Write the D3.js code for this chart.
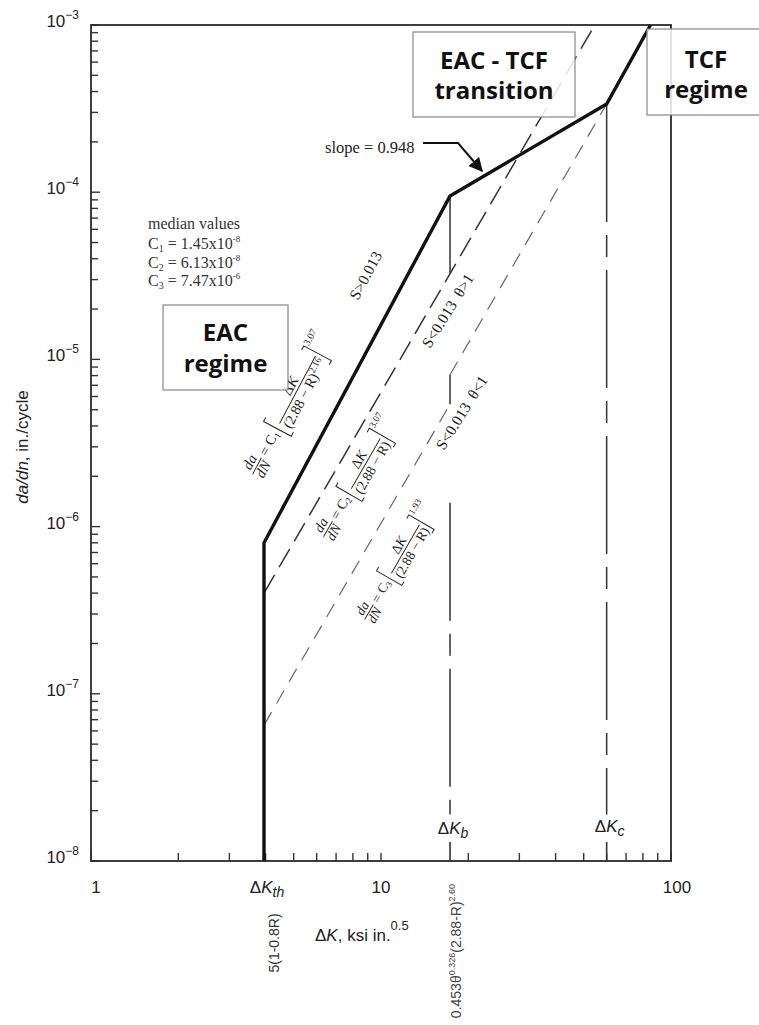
<!DOCTYPE html>
<html><head><meta charset="utf-8">
<script src="https://cdn.jsdelivr.net/npm/d3@7"></script>
<style>body{margin:0;background:#fff}</style>
</head><body>
<svg id="c" width="759" height="1025"></svg>
<script>
// ---------- data ----------
const xDomain = [1, 100];
const yDomain = [1e-8, 1e-3];
const xTickValues = [1, 10, 100];
const xTickLabels = ["1", "10", "100"];
const yDecadeValues = [1e-3, 1e-4, 1e-5, 1e-6, 1e-7, 1e-8];
const yDecadeExps = ["−3", "−4", "−5", "−6", "−7", "−8"];
const keyDK = [3.95, 17.3, 60];
const keyDKSubs = ["th", "b", "c"];
// S>0.013 (thick solid)
const thickDK = [3.95, 3.95, 17.3, 60, 85];
const thickRate = [1e-8, 8.0e-7, 9.5e-5, 3.37e-4, 1e-3];
// S<0.013, theta>1 (dashed)
const upperDK = [3.95, 54.6];
const upperRate = [4.0e-7, 1e-3];
const upperStepDK = [17.3, 17.3];
const upperStepRate = [9.5e-5, 3.27e-5];
// S<0.013, theta<1 (light dashed)
const lowerDK1 = [3.95, 17.3];
const lowerRate1 = [6.5e-8, 5.4e-6];
const lowerStepDK = [17.3, 17.3];
const lowerStepRate = [5.4e-6, 8.1e-6];
const lowerDK2 = [17.3, 60];
const lowerRate2 = [8.1e-6, 3.37e-4];
// vertical guide lines at dKb and dKc
const guideDK = [17.3, 60];
const guideTop = [1.39e-6, 3.37e-4];
const guideBottom = [1.9e-8, 1.9e-8];
// median values
const medianSubs = ["1", "2", "3"];
const medianMant = ["1.45", "6.13", "7.47"];
const medianExps = ["-8", "-8", "-6"];

// ---------- drawing ----------
const svg = d3.select("#c");
const SERIF = "'Liberation Serif', 'DejaVu Serif', serif";
const SANS = "'Liberation Sans', Arial, sans-serif";
const BOLD = "'Open Sans', 'Noto Sans', sans-serif";

const L = 91, R = 671, T = 25, B = 861;
const x = d3.scaleLog().domain(xDomain).range([L, R]);
const y = d3.scaleLog().domain(yDomain).range([B, T]);

// ticks (inward)
const yTicks = y.ticks();
svg.append("g").selectAll("line").data(yTicks).join("line")
  .attr("x1", L).attr("x2", d => L + (Math.abs(Math.log10(d) - Math.round(Math.log10(d))) < 1e-6 ? 9 : 7))
  .attr("y1", d => y(d)).attr("y2", d => y(d))
  .attr("stroke", "#333").attr("stroke-width", 1.4);
const xTicks = x.ticks();
svg.append("g").selectAll("line").data(xTicks).join("line")
  .attr("x1", d => x(d)).attr("x2", d => x(d))
  .attr("y1", B).attr("y2", B - 8)
  .attr("stroke", "#333").attr("stroke-width", 1.4);
// tall ticks at dKb, dKc
svg.append("g").selectAll("line").data(keyDK.slice(1)).join("line")
  .attr("x1", d => x(d)).attr("x2", d => x(d))
  .attr("y1", B).attr("y2", B - 19)
  .attr("stroke", "#333").attr("stroke-width", 1.6);

// frame
svg.append("rect").attr("x", L).attr("y", T).attr("width", R - L).attr("height", B - T)
  .attr("fill", "none").attr("stroke", "#2a2a2a").attr("stroke-width", 1.8);

// y tick labels
yDecadeValues.forEach((v, i) => {
  const t = svg.append("text").attr("x", 79).attr("y", y(v) + 2)
    .attr("text-anchor", "end").attr("font-family", SANS).attr("font-size", 17).attr("fill", "#222");
  t.append("tspan").text("10");
  t.append("tspan").attr("font-size", 12).attr("dy", -8).text(yDecadeExps[i]);
});
// x tick labels
xTickValues.forEach((v, i) => {
  svg.append("text").attr("x", x(v) + (i === 0 ? 5 : (i === 2 ? 6 : 0))).attr("y", 893)
    .attr("text-anchor", "middle").attr("font-family", SANS).attr("font-size", 17).attr("fill", "#222")
    .text(xTickLabels[i]);
});
// dK key labels
const keyY = [893, 834, 832];
keyDK.forEach((v, i) => {
  const t = svg.append("text").attr("x", x(v) + 3).attr("y", keyY[i])
    .attr("text-anchor", "middle").attr("font-family", SANS).attr("font-size", 17).attr("fill", "#222");
  t.append("tspan").text("Δ");
  t.append("tspan").attr("font-style", "italic").text("K");
  t.append("tspan").attr("font-style", "italic").attr("font-size", 14).attr("dy", 4).text(keyDKSubs[i]);
});

// axis titles
const xt = svg.append("text").attr("x", 315).attr("y", 941).attr("font-family", SANS).attr("font-size", 17).attr("fill", "#222");
xt.append("tspan").text("Δ");
xt.append("tspan").attr("font-style", "italic").text("K");
xt.append("tspan").text(", ksi in.");
xt.append("tspan").attr("font-size", 13).attr("dy", -11).text("0.5");
const yt = svg.append("text").attr("transform", "translate(28,447) rotate(-90)").attr("text-anchor", "middle")
  .attr("font-family", SANS).attr("font-size", 17).attr("fill", "#222");
yt.append("tspan").attr("font-style", "italic").text("da/dn");
yt.append("tspan").text(", in./cycle");

// rotated bottom expressions
svg.append("text").attr("transform", "translate(279,943) rotate(-90)").attr("text-anchor", "middle")
  .attr("font-family", SANS).attr("font-size", 14).attr("fill", "#333").text("5(1-0.8R)");
const kb = svg.append("text").attr("transform", "translate(461,951) rotate(-90)").attr("text-anchor", "middle")
  .attr("font-family", SANS).attr("font-size", 14).attr("fill", "#444");
kb.append("tspan").text("0.453θ");
kb.append("tspan").attr("font-size", 9).attr("dy", -6).text("0.326");
kb.append("tspan").attr("dy", 6).text("(2.88-R)");
kb.append("tspan").attr("font-size", 9).attr("dy", -6).text("2.60");

// curves
const line = d3.line().x(d => x(d[0])).y(d => y(d[1]));
const zip = (a, b) => a.map((v, i) => [v, b[i]]);

guideDK.forEach((v, i) => {
  svg.append("path").attr("d", line([[v, guideTop[i]], [v, guideBottom[i]]]))
    .attr("stroke", "#333").attr("stroke-width", 1.5).attr("fill", "none")
    .attr("stroke-dasharray", "118,13,22,13");
});

svg.append("path").attr("d", line(zip(lowerDK1, lowerRate1)))
  .attr("stroke", "#666").attr("stroke-width", 1.2).attr("fill", "none").attr("stroke-dasharray", "15,10");
svg.append("path").attr("d", line(zip(lowerDK2, lowerRate2)))
  .attr("stroke", "#666").attr("stroke-width", 1.2).attr("fill", "none").attr("stroke-dasharray", "15,10");
svg.append("path").attr("d", line(zip(lowerStepDK, lowerStepRate)))
  .attr("stroke", "#333").attr("stroke-width", 1.5).attr("fill", "none");

svg.append("path").attr("d", line(zip(upperDK, upperRate)))
  .attr("stroke", "#333").attr("stroke-width", 1.5).attr("fill", "none").attr("stroke-dasharray", "21,9");
svg.append("path").attr("d", line(zip(upperStepDK, upperStepRate)))
  .attr("stroke", "#333").attr("stroke-width", 1.5).attr("fill", "none");

svg.append("path").attr("d", line(zip(thickDK, thickRate)))
  .attr("stroke", "#111").attr("stroke-width", 3.4).attr("fill", "none").attr("stroke-linejoin", "miter");

// formulas
function formula(cx, cy, angle, sub, denExp, outExp, fs) {
  const k = fs / 12.5;
  const g = svg.append("g").attr("transform", `translate(${cx},${cy}) rotate(${angle})`)
    .attr("font-family", SERIF).attr("font-size", fs).attr("fill", "#222");
  g.append("text").attr("x", 0).attr("y", -3 * k).attr("text-anchor", "middle").attr("font-style", "italic").text("da");
  g.append("text").attr("x", 0).attr("y", 10 * k).attr("text-anchor", "middle").attr("font-style", "italic").text("dN");
  g.append("line").attr("x1", -8 * k).attr("x2", 8 * k).attr("y1", 0).attr("y2", 0).attr("stroke", "#222").attr("stroke-width", 0.9);
  let xx = 11 * k;
  const eq = g.append("text").attr("x", xx).attr("y", 4 * k);
  eq.append("tspan").text("= C");
  eq.append("tspan").attr("font-size", 8 * k).attr("dy", 2 * k).text(sub);
  xx += eq.node().getComputedTextLength() + 3 * k;
  const h = 13 * k, hb = 14 * k;
  g.append("path").attr("d", `M${xx + 4 * k},${-h}H${xx}V${hb}H${xx + 4 * k}`).attr("stroke", "#222").attr("fill", "none").attr("stroke-width", 1);
  xx += 5 * k;
  const den = g.append("text").attr("x", xx).attr("y", 11 * k);
  den.append("tspan").text("(2.88 − R)");
  if (denExp) den.append("tspan").attr("font-size", 8 * k).attr("dy", -5 * k).text(denExp);
  const dw = den.node().getComputedTextLength();
  const num = g.append("text").attr("x", xx + dw / 2).attr("y", -3 * k).attr("text-anchor", "middle");
  num.append("tspan").text("Δ");
  num.append("tspan").attr("font-style", "italic").text("K");
  g.append("line").attr("x1", xx).attr("x2", xx + dw).attr("y1", 0).attr("y2", 0).attr("stroke", "#222").attr("stroke-width", 0.9);
  xx += dw + 3 * k;
  g.append("path").attr("d", `M${xx - 4 * k},${-h}H${xx}V${hb}H${xx - 4 * k}`).attr("stroke", "#222").attr("fill", "none").attr("stroke-width", 1);
  g.append("text").attr("x", xx + 2).attr("y", -9 * k).attr("font-size", 8.5 * k).text(outExp);
}
formula(257, 466, -62, "1", "2.16", "3.07", 14.5);
formula(328, 529, -60, "2", null, "3.07", 14);
formula(369, 612, -60, "3", null, "1.93", 13.5);

// S labels
function sLabel(px, py, ang, txt) {
  svg.append("text").attr("transform", `translate(${px},${py}) rotate(${ang})`)
    .attr("font-family", SERIF).attr("font-size", 15.5).attr("fill", "#222")
    .attr("xml:space", "preserve").text(txt);
}
sLabel(358, 301, -62, "S>0.013");
sLabel(430, 349, -58, "S<0.013  θ>1");
sLabel(444, 451, -58, "S<0.013  θ<1");

// slope annotation
svg.append("text").attr("x", 325).attr("y", 153).attr("font-family", SERIF).attr("font-size", 16.5)
  .attr("fill", "#222").text("slope = 0.948");
svg.append("defs").append("marker").attr("id", "ah").attr("viewBox", "0 0 10 10")
  .attr("refX", 9).attr("refY", 5).attr("markerWidth", 7).attr("markerHeight", 7).attr("orient", "auto")
  .append("path").attr("d", "M0,0L10,5L0,10z").attr("fill", "#111");
svg.append("path").attr("d", "M423,143H458L482,171").attr("stroke", "#111").attr("stroke-width", 2)
  .attr("fill", "none").attr("marker-end", "url(#ah)");

// median values
const mv = svg.append("g").attr("font-family", SERIF).attr("font-size", 16).attr("fill", "#333");
mv.append("text").attr("x", 148).attr("y", 229).text("median values");
medianSubs.forEach((s, i) => {
  const t = mv.append("text").attr("x", 148).attr("y", 249 + i * 18.5);
  t.append("tspan").text("C");
  t.append("tspan").attr("font-size", 10).attr("dy", 3).text(s);
  t.append("tspan").attr("dy", -3).text(" = " + medianMant[i] + "x10");
  t.append("tspan").attr("font-size", 9).attr("dy", -7).text(medianExps[i]);
});

// regime boxes
function box(bx, by, bw, bh, l1, l2, y1, y2) {
  svg.append("rect").attr("x", bx).attr("y", by).attr("width", bw).attr("height", bh)
    .attr("fill", "#fff").attr("fill-opacity", 0.85).attr("stroke", "#888").attr("stroke-width", 1.2);
  [l1, l2].forEach((t, i) => svg.append("text").attr("x", bx + bw / 2).attr("y", i ? y2 : y1)
    .attr("text-anchor", "middle").attr("font-family", BOLD).attr("font-weight", 700)
    .attr("font-size", 24).attr("fill", "#111").text(t));
}
box(163, 305, 125, 85, "EAC", "regime", 341, 372);
box(413, 32, 162, 85, "EAC - TCF", "transition", 69, 99);
box(647, 29, 118, 86, "TCF", "regime", 68, 98);
</script>
</body></html>
